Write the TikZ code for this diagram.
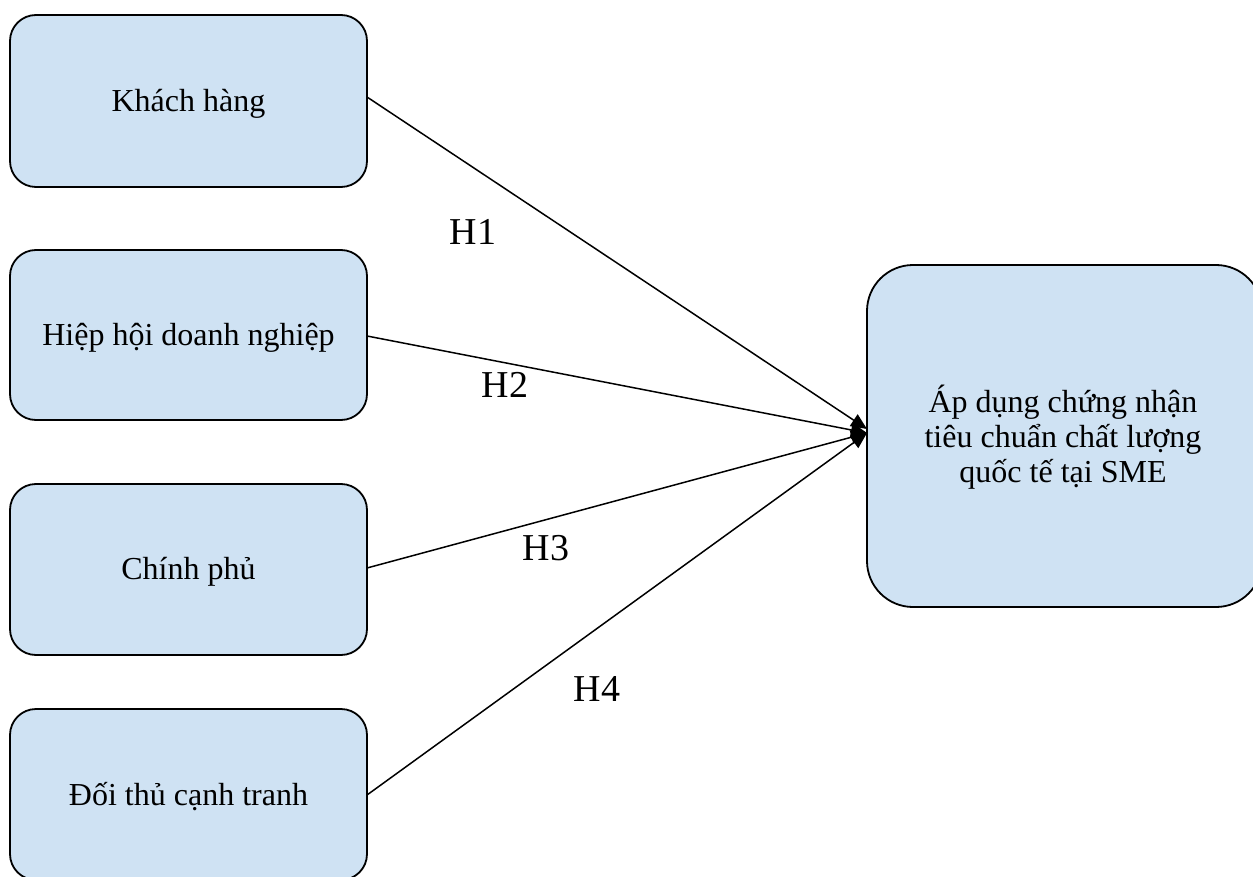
\documentclass[tikz,border=0pt]{standalone}
\usepackage{fontspec}
\setmainfont{Liberation Serif}
\usetikzlibrary{arrows.meta}
\definecolor{boxblue}{RGB}{207,226,243}
\tikzset{
  lbox/.style={draw=black, line width=1.8pt, fill=boxblue, rounded corners=26pt},
  rbox/.style={draw=black, line width=1.8pt, fill=boxblue, rounded corners=46pt},
  conn/.style={draw=black, line width=1.5pt, -{Triangle[length=16pt,width=14pt]}},
  hlab/.style={font=\fontsize{38}{40}\selectfont},
  btext/.style={font=\fontsize{32}{35}\selectfont, align=center}
}
\begin{document}
\begin{tikzpicture}[x=1pt,y=-1pt]
\useasboundingbox (0,0) rectangle (1253,877);
\draw[lbox] (10,15) rectangle (367,187);
\draw[lbox] (10,250) rectangle (367,420);
\draw[lbox] (10,484) rectangle (367,655);
\draw[lbox] (10,709) rectangle (367,880);
\draw[rbox] (867,265) rectangle (1262,607);
\node[btext] (b1) at (188.5,104) {Khách hàng};
\node[btext] (b2) at (188.5,338) {Hiệp hội doanh nghiệp};
\node[btext] (b3) at (188.5,572) {Chính phủ};
\node[btext] (b4) at (188.5,797) {Đối thủ cạnh tranh};
\node[btext] (r) at (1063,437) {Áp dụng chứng nhận\\tiêu chuẩn chất lượng\\quốc tế tại SME};
\coordinate (s1) at (367,97);
\coordinate (s2) at (367,336);
\coordinate (s3) at (367,568);
\coordinate (s4) at (367,795);
\coordinate (tip1) at (867,429);
\coordinate (tip) at (867,433);
\draw[conn] (s1) -- (tip1);
\draw[conn] (s2) -- (tip);
\draw[conn] (s3) -- (tip);
\draw[conn] (s4) -- (tip);
\node[hlab] (h1) at (473,232) {H1};
\node[hlab] (h2) at (505,385) {H2};
\node[hlab] (h3) at (546,548) {H3};
\node[hlab] (h4) at (597,689) {H4};
\end{tikzpicture}
\end{document}
